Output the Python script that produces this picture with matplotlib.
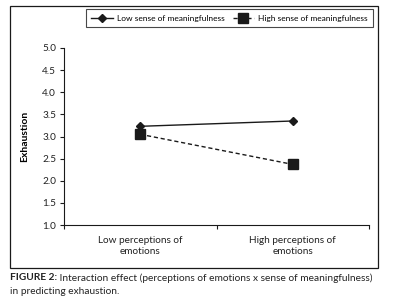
import matplotlib.pyplot as plt
from matplotlib.patches import Rectangle

plt.rcParams['font.family'] = ['Lato', 'DejaVu Sans']

categories = ['Low perceptions of\nemotions', 'High perceptions of\nemotions']
low_meaning = [3.23, 3.35]
high_meaning = [3.05, 2.37]
yticks = [1.0, 1.5, 2.0, 2.5, 3.0, 3.5, 4.0, 4.5, 5.0]

dark = '#1a1a1a'

fig = plt.figure(figsize=(4.07, 3.03), dpi=100)
ax = fig.add_axes([0.157, 0.257, 0.750, 0.585])

xpos = [0.5, 1.5]
ax.plot(xpos, low_meaning, color=dark, linewidth=1.0, marker='D',
        markersize=4.5, label='Low sense of meaningfulness')
ax.plot(xpos, high_meaning, color=dark, linewidth=1.0, linestyle=(0, (3, 2)),
        marker='s', markersize=6.5, label='High sense of meaningfulness')

ax.set_xlim(0, 2)
ax.set_ylim(1.0, 5.0)
ax.set_yticks(yticks)
ax.set_yticklabels(['%.1f' % t for t in yticks], fontsize=7.2)
ax.set_xticks([0, 1, 2])
ax.set_xticklabels([])
for x, lab in zip(xpos, categories):
    ax.text(x, -0.06, lab, transform=ax.get_xaxis_transform(), ha='center',
            va='top', fontsize=7.2, color='#222222', linespacing=1.3)
ax.tick_params(axis='both', direction='out', length=3, width=0.8, colors=dark,
               labelcolor='#222222', pad=2.5)
for s in ['top', 'right']:
    ax.spines[s].set_visible(False)
for s in ['left', 'bottom']:
    ax.spines[s].set_linewidth(0.8)
    ax.spines[s].set_color(dark)

ax.set_ylabel('Exhaustion', fontsize=7.5, fontweight='bold')
ax.yaxis.set_label_coords(-0.115, 0.5)

leg = ax.legend(loc='upper left', bbox_to_anchor=(86 / 407, 1 - 9.5 / 303),
                bbox_transform=fig.transFigure, ncol=2, fontsize=6.0,
                frameon=True, fancybox=False, borderpad=0.65,
                handlelength=2.6, columnspacing=0.9, handletextpad=0.5,
                borderaxespad=0)
leg.get_frame().set_edgecolor(dark)
leg.get_frame().set_linewidth(0.8)

fig.patches.append(Rectangle((10 / 407, 1 - 268 / 303), 368 / 407, 262 / 303,
                             transform=fig.transFigure, fill=False,
                             edgecolor=dark, linewidth=0.9))

cap = fig.text(10 / 407, 1 - 278 / 303, 'FIGURE 2:', fontsize=7.3,
               fontweight='bold', va='center', color='#222222')
ax.annotate(' Interaction effect (perceptions of emotions x sense of meaningfulness)',
            xy=(1, 0.5), xycoords=cap, va='center', fontsize=7.3,
            color='#222222', annotation_clip=False)
fig.text(10 / 407, 1 - 292 / 303, 'in predicting exhaustion.', fontsize=7.3,
         va='center', color='#222222')

fig.savefig('out.png', dpi=100)
